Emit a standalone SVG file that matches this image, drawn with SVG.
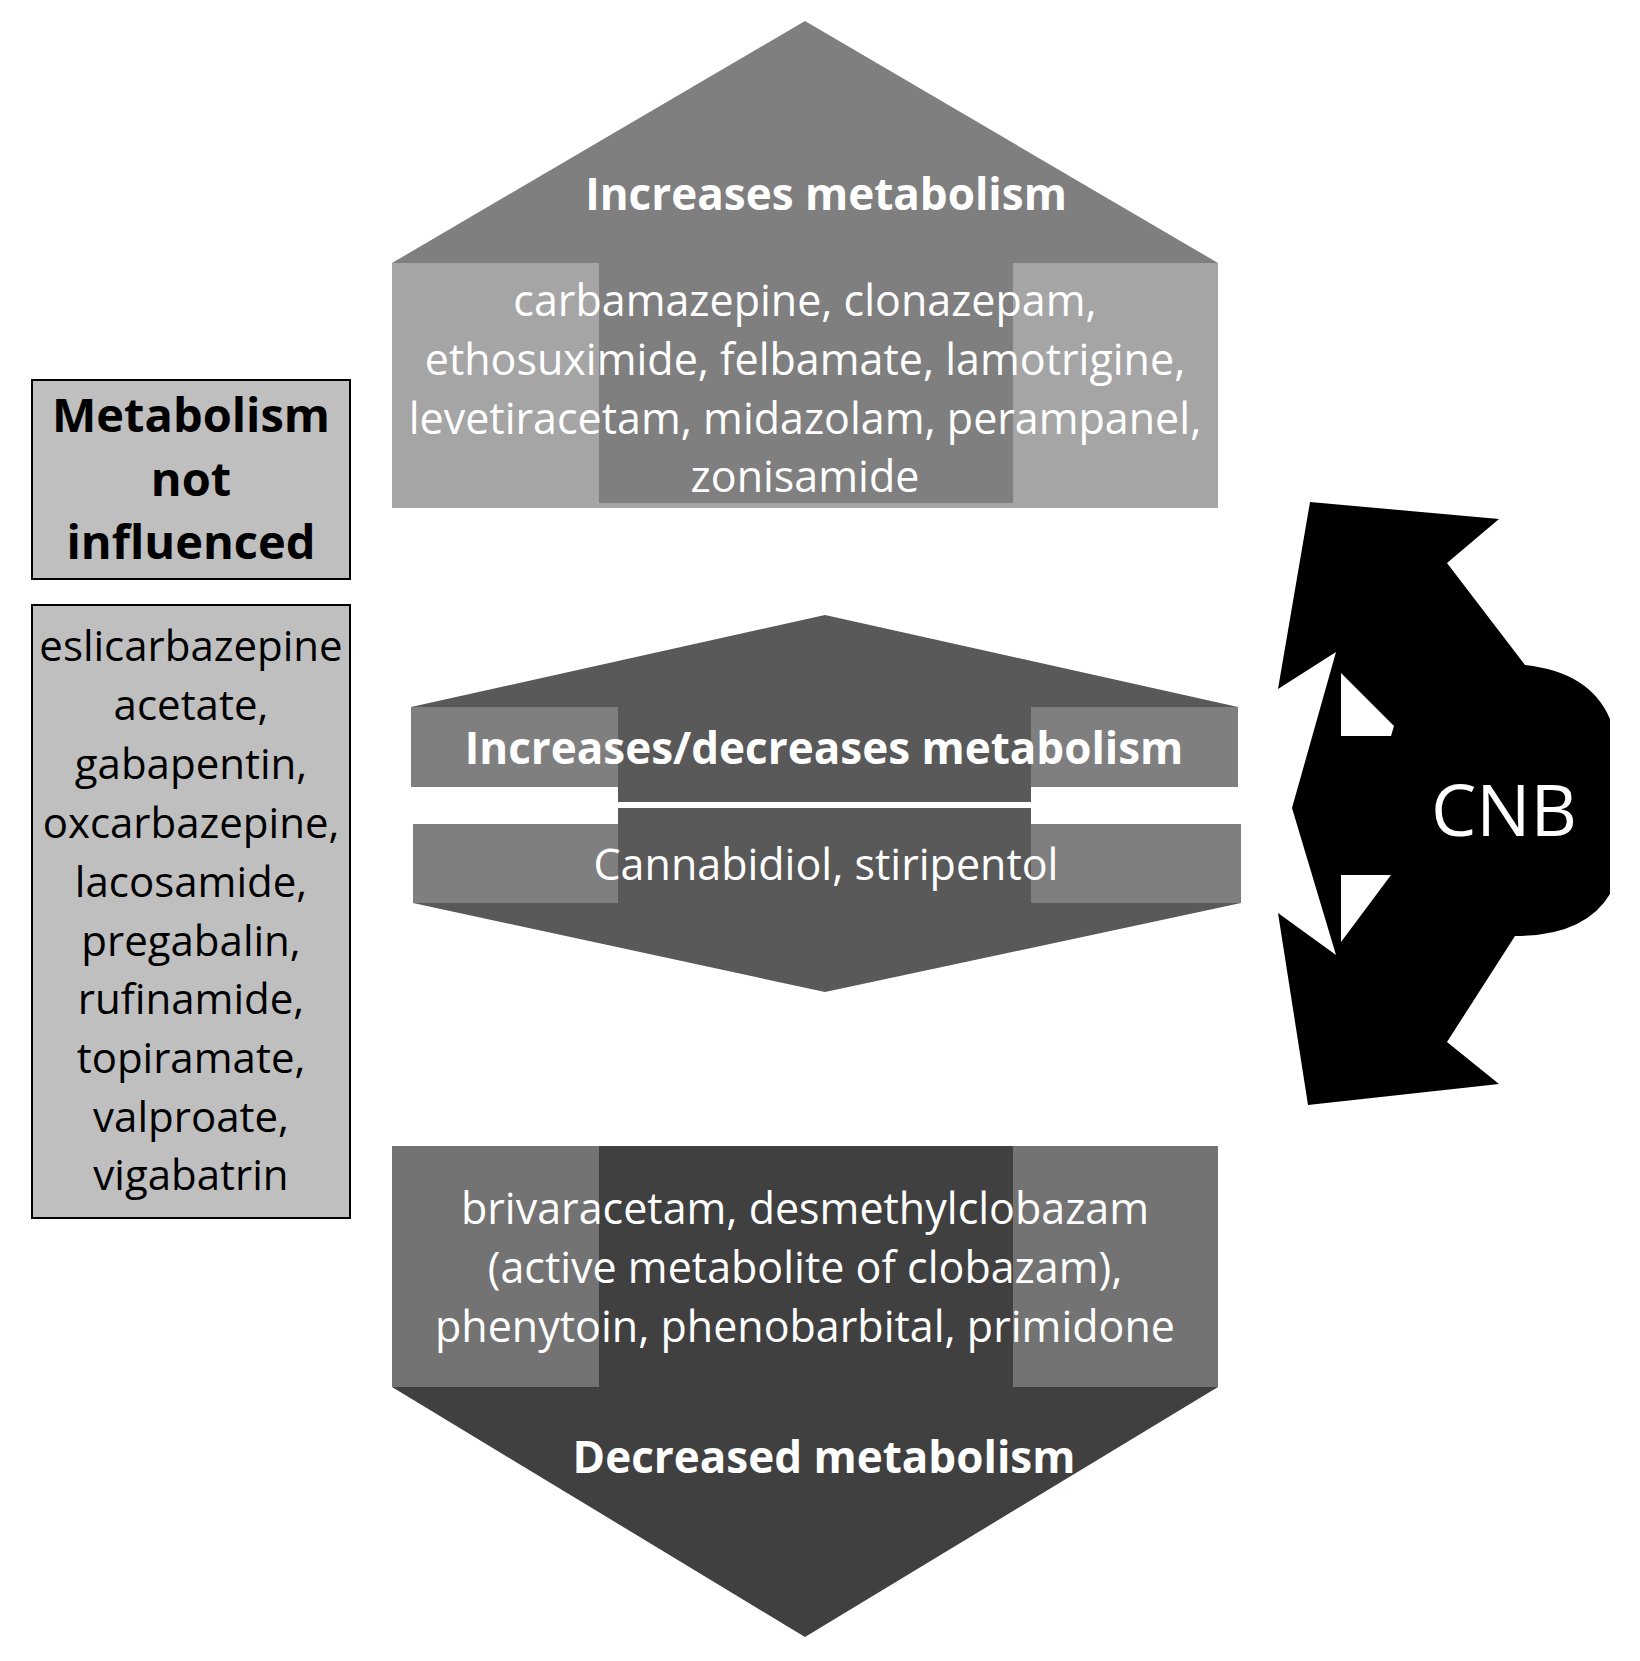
<svg xmlns="http://www.w3.org/2000/svg" width="1640" height="1661" viewBox="0 0 1640 1661">
<style>
.w{fill:#fff;font-family:"Open Sans","DejaVu Sans",sans-serif;text-anchor:middle;font-size:43px}
.b{font-weight:bold;font-size:44px}
.k{fill:#000;font-family:"Open Sans","DejaVu Sans",sans-serif;text-anchor:middle;font-size:42px}
.kb{font-weight:bold;font-size:47px}
.box{fill:#bfbfbf;stroke:#000;stroke-width:2}
</style>
<rect width="1640" height="1661" fill="#fff"/>
<g id="top">
<polygon points="805,21 392,263 1218,263" fill="#7f7f7f"/>
<rect x="392" y="263" width="826" height="245" fill="#a5a5a5"/>
<rect x="599" y="263" width="414" height="240" fill="#7f7f7f"/>
<text class="w b" x="826" y="210">Increases metabolism</text>
<text class="w" x="805" y="316">carbamazepine, clonazepam,</text>
<text class="w" x="805" y="375">ethosuximide, felbamate, lamotrigine,</text>
<text class="w" x="805" y="434">levetiracetam, midazolam, perampanel,</text>
<text class="w" x="805" y="492">zonisamide</text>
</g>
<g id="notinf">
<rect class="box" x="32" y="380" width="318" height="199"/>
<text class="k kb" x="191" y="432">Metabolism</text>
<text class="k kb" x="191" y="496">not</text>
<text class="k kb" x="191" y="559">influenced</text>
</g>
<g id="list">
<rect class="box" x="32" y="605" width="318" height="613"/>
<text class="k" x="191" y="661">eslicarbazepine</text>
<text class="k" x="191" y="720">acetate,</text>
<text class="k" x="191" y="779">gabapentin,</text>
<text class="k" x="191" y="838">oxcarbazepine,</text>
<text class="k" x="191" y="897">lacosamide,</text>
<text class="k" x="191" y="956">pregabalin,</text>
<text class="k" x="191" y="1014">rufinamide,</text>
<text class="k" x="191" y="1073">topiramate,</text>
<text class="k" x="191" y="1132">valproate,</text>
<text class="k" x="191" y="1190">vigabatrin</text>
</g>
<g id="middle">
<polygon points="825,615 411,707 1238,707" fill="#595959"/>
<rect x="411" y="707" width="827" height="80" fill="#7f7f7f"/>
<rect x="618" y="707" width="413" height="95" fill="#595959"/>
<line x1="618" y1="803" x2="1031" y2="803" stroke="#fff" stroke-width="2"/>
<rect x="413" y="824" width="828" height="79" fill="#7f7f7f"/>
<rect x="618" y="808" width="413" height="95" fill="#595959"/>
<polygon points="413,903 1241,903 825,992" fill="#595959"/>
<text class="w b" x="824" y="764">Increases/decreases metabolism</text>
<text class="w" x="826" y="880">Cannabidiol, stiripentol</text>
</g>
<g id="bottom">
<rect x="392" y="1146" width="826" height="241" fill="#737373"/>
<rect x="599" y="1146" width="414" height="241" fill="#404040"/>
<polygon points="392,1387 1218,1387 805,1637" fill="#404040"/>
<text class="w" x="805" y="1224">brivaracetam, desmethylclobazam</text>
<text class="w" x="805" y="1283">(active metabolite of clobazam),</text>
<text class="w" x="805" y="1342">phenytoin, phenobarbital, primidone</text>
<text class="w b" x="824" y="1473">Decreased metabolism</text>
</g>
<g id="cnb">
<path d="M1310,502 L1499,519 L1447,563 L1525,665 Q1590,672 1610,719 L1610,894 Q1585,936 1515,936 L1447,1042 L1499,1084 L1308,1105 L1278,913 L1336,955 L1292,808 L1336,652 L1278,689 Z" fill="#000"/>
<polygon points="1341,673 1341,736 1391,736 1394,726" fill="#fff"/>
<polygon points="1341,875 1391,875 1341,942" fill="#fff"/>
<text x="1504" y="836" fill="#fff" font-family="'Open Sans','DejaVu Sans',sans-serif" font-size="72" text-anchor="middle">CNB</text>
</g>
</svg>
